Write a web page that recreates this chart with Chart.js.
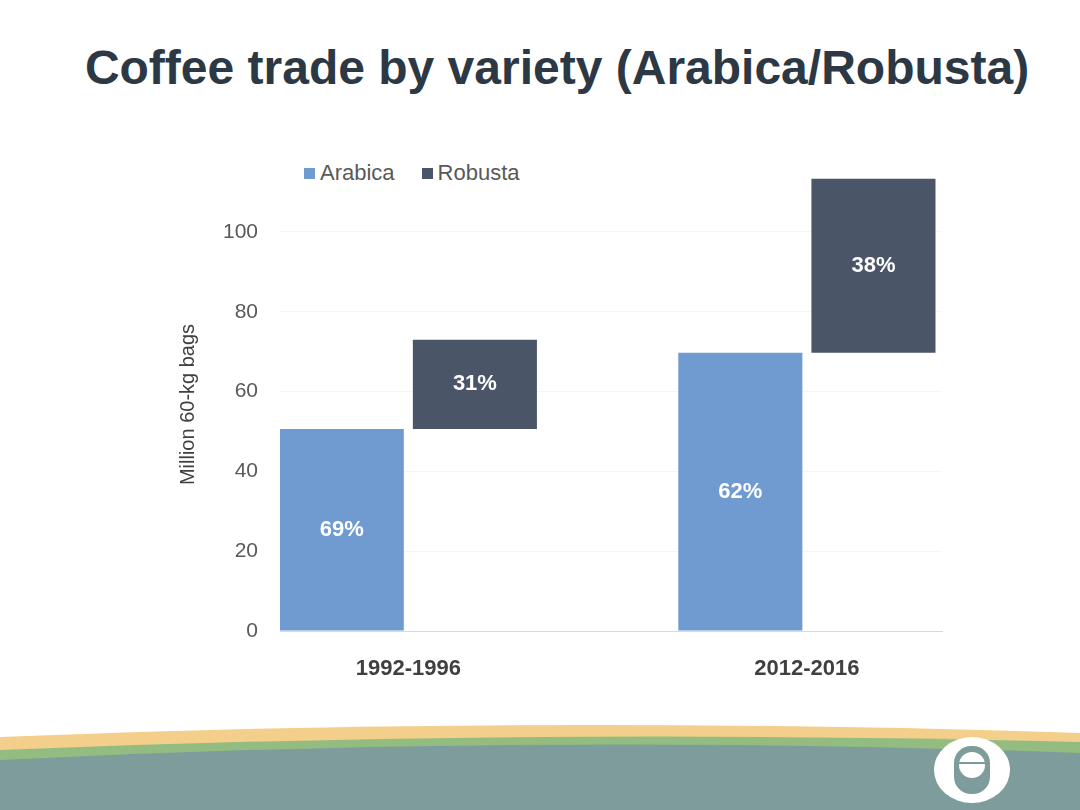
<!DOCTYPE html>
<html>
<head>
<meta charset="utf-8">
<script src="https://cdn.jsdelivr.net/npm/chart.js@4"></script>
<style>
  html, body { margin: 0; padding: 0; background: #fff; }
  #page { position: relative; width: 1080px; height: 810px; overflow: hidden; font-family: "Liberation Sans", Arial, sans-serif; }
  #deco { position: absolute; left: 0; top: 0; }
  #title { position: absolute; left: 77px; width: 960px; top: 40px; text-align: center; font-weight: bold; font-size: 48px; color: #2c3843; white-space: nowrap; }
  #legend { position: absolute; left: 304px; top: 160px; font-size: 22px; color: #595959; display: flex; }
  #legend span.item { display: flex; align-items: center; margin-right: 27px; }
  #legend span.box { width: 11px; height: 11px; margin-right: 5px; display: inline-block; }
  #chartWrap { position: absolute; left: 0; top: 0; width: 1080px; height: 810px; }
</style>
</head>
<body>
<div id="page">
  <svg id="deco" width="1080" height="810" viewBox="0 0 1080 810">
    <path d="M0,737 Q540,715 1080,733 L1080,810 L0,810 Z" fill="#f3cf8b"/>
    <path d="M0,750 Q540,728 1080,742 L1080,810 L0,810 Z" fill="#93bd80"/>
    <path d="M0,760 Q540,733 1080,753 L1080,810 L0,810 Z" fill="#7e9c9c"/>
    <ellipse cx="972" cy="770" rx="38" ry="33" fill="#fff"/>
    <rect x="954" y="746" width="36" height="48" rx="17" fill="#7e9c9c"/>
    <circle cx="972" cy="765" r="13" fill="#fff"/>
    <rect x="958" y="762" width="28" height="2" fill="#7e9c9c"/>
  </svg>
  <div id="title">Coffee trade by variety (Arabica/Robusta)</div>
  <div id="legend"></div>
  <div id="chartWrap"><canvas id="tradeChart" width="1080" height="810"></canvas></div>
</div>
<script>
// periods on the x axis
const periods = ["1992-1996", "2012-2016"];
// million 60-kg bags: arabica from zero, robusta stacked on top of it
const arabicaBags = [50.6, 69.7];
const robustaBags = [22.4, 43.6];
// share labels printed inside the bars
const arabicaShare = ["69%", "62%"];
const robustaShare = ["31%", "38%"];
const yTicks = [0, 20, 40, 60, 80, 100];

const ctx = document.getElementById("tradeChart").getContext("2d");

// floating bars: [start, end] for each period, period index on x
const arabicaData = periods.map((p, i) => ({ x: i + 1, y: [0, arabicaBags[i]] }));
const robustaData = periods.map((p, i) => ({
  x: i + 1,
  y: [arabicaBags[i], arabicaBags[i] + robustaBags[i]],
}));

const datasets = [
  { label: "Arabica", data: arabicaData, backgroundColor: "#6f9bd1", shares: arabicaShare },
  { label: "Robusta", data: robustaData, backgroundColor: "#4a5568", shares: robustaShare },
];

// write the share % in the middle of each bar
const shareLabels = {
  id: "shareLabels",
  afterDatasetsDraw(chart) {
    const c = chart.ctx;
    c.save();
    c.fillStyle = "#ffffff";
    c.font = "bold 22px 'Liberation Sans', Arial, sans-serif";
    c.textAlign = "center";
    c.textBaseline = "middle";
    chart.data.datasets.forEach((ds, di) => {
      chart.getDatasetMeta(di).data.forEach((bar, i) => {
        c.fillText(ds.shares[i], bar.x, (bar.y + bar.base) / 2);
      });
    });
    c.restore();
  },
};

new Chart(ctx, {
  type: "bar",
  data: { datasets: datasets },
  options: {
    responsive: false,
    animation: false,
    layout: { padding: { left: 176, right: 138, top: 178, bottom: 119 } },
    datasets: {
      bar: { categoryPercentage: 0.668, barPercentage: 0.932 },
    },
    scales: {
      x: {
        type: "linear",
        offset: false,
        min: 0.678,
        max: 2.339,
        afterBuildTicks: (axis) => {
          axis.ticks = periods.map((p, i) => ({ value: i + 1 }));
        },
        afterFit: (axis) => { axis.height = 60; },
        ticks: {
          color: "#404040",
          font: { size: 22, weight: "bold", family: "'Liberation Sans', Arial, sans-serif" },
          padding: 25,
          callback: (value, index) => periods[index],
        },
        grid: { display: false, drawTicks: false },
        border: { display: true, color: "#d9d9d9", width: 1 },
      },
      y: {
        min: 0,
        max: 113.5,
        afterBuildTicks: (axis) => {
          axis.ticks = yTicks.map((v) => ({ value: v }));
        },
        afterFit: (axis) => { axis.width = 104; },
        ticks: {
          color: "#595959",
          font: { size: 21, family: "'Liberation Sans', Arial, sans-serif" },
          padding: 22,
        },
        grid: { color: "#f5f5f5", drawTicks: false },
        border: { display: false },
        title: {
          display: true,
          text: "Million 60-kg bags",
          color: "#404040",
          font: { size: 20, family: "'Liberation Sans', Arial, sans-serif" },
          padding: { top: 0, bottom: 0 },
        },
      },
    },
    plugins: {
      legend: { display: false },
      tooltip: { enabled: false },
    },
  },
  plugins: [shareLabels],
});

// legend drawn as html from the dataset list
const legendEl = document.getElementById("legend");
datasets.forEach((ds) => {
  const item = document.createElement("span");
  item.className = "item";
  item.innerHTML = '<span class="box" style="background:' + ds.backgroundColor + '"></span>' + ds.label;
  legendEl.appendChild(item);
});
</script>
</body>
</html>
